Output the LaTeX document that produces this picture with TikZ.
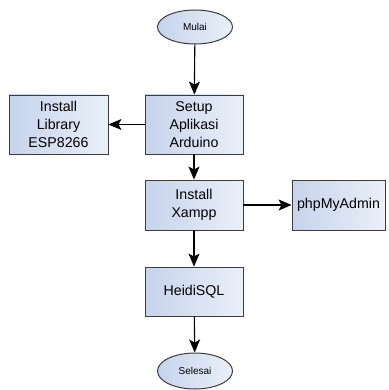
\documentclass[tikz,border=0pt]{standalone}
\usepackage{fontspec}
\setmainfont{Liberation Sans}
\usetikzlibrary{
  arrows.meta,
  shapes.geometric,
  calc
}
\definecolor{boxleft}{HTML}{C6D3EB}
\definecolor{boxright}{HTML}{EAF0F9}
\definecolor{boxline}{HTML}{3C3C3C}
\tikzset{
  process box/.style={
    rectangle,
    draw=boxline,
    line width=0.9pt,
    left color=boxleft,
    right color=boxright,
    align=center,
    inner sep=0pt,
    font=\fontsize{14.2}{18}\selectfont
  },
  terminal/.style={
    ellipse,
    draw=boxline,
    line width=1pt,
    left color=boxleft,
    right color=boxright,
    inner sep=0pt,
    minimum width=75pt,
    font=\fontsize{10}{12}\selectfont
  },
  flow arrow/.style={
    draw=black,
    line width=1.1pt,
    -{Stealth[length=13pt,width=11pt,inset=3pt]}
  }
}

\begin{document}
\begin{tikzpicture}[x=1pt,y=-1pt]
      \useasboundingbox (0,0) rectangle (388,390);
      \node [terminal, minimum height=34pt] (mulai) at (195,27) {Mulai};
      \node [process box, minimum width=98pt, minimum height=59pt] (setup) at (194,124.5) {Setup\\Aplikasi\\Arduino};
      \node [process box, minimum width=99pt, minimum height=59pt] (library) at (58.5,124.5) {Install\\Library\\ESP8266};
      \node [process box, minimum width=98pt, minimum height=50pt] (xampp) at (194,205) {Install\\Xampp};
      \node [process box, minimum width=93pt, minimum height=50pt] (phpmyadmin) at (338.5,205) {phpMyAdmin};
      \node [process box, minimum width=98pt, minimum height=49pt] (heidisql) at (194,291.5) {HeidiSQL};
      \node [terminal, minimum height=36pt] (selesai) at (195,371) {Selesai};
      % alur
      \draw [flow arrow] (mulai) -- (setup);
      \draw [flow arrow] (setup) -- (library);
      \draw [flow arrow] (setup) -- (xampp);
      \draw [flow arrow] (xampp) -- (phpmyadmin);
      \draw [flow arrow] (xampp) -- (heidisql);
      \draw [flow arrow] (heidisql) -- (selesai);
    \end{tikzpicture}
\end{document}
